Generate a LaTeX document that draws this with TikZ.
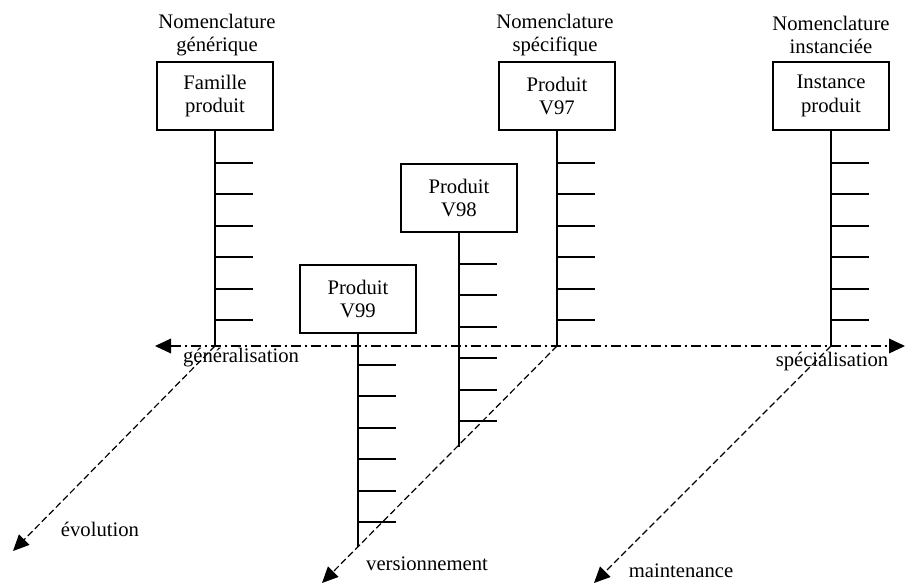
\documentclass[tikz,border=0pt]{standalone}
\usepackage{fontspec}
\setmainfont{Liberation Serif}
\usetikzlibrary{arrows.meta}
\begin{document}
\begin{tikzpicture}[x=0.75pt,y=-0.75pt,
  every node/.style={font=\fontsize{15.5}{17.5}\selectfont},
  boxnode/.style={draw, line width=1pt, minimum width=87pt, minimum height=51pt, inner sep=0pt, align=center},
  titlenode/.style={align=center, inner sep=0pt},
  lab/.style={inner sep=0pt, anchor=base},
  stem/.style={line width=1pt},
  tickline/.style={line width=1pt},
  axis/.style={line width=1pt, dash pattern=on 7.5pt off 3pt on 1.5pt off 3pt,
    {Triangle[length=12pt,width=11pt]}-{Triangle[length=12pt,width=11pt]}},
  evo/.style={line width=0.9pt, dash pattern=on 5pt off 2.5pt, -{Triangle[length=12pt,width=11pt]}}
]
\useasboundingbox (0,0) rectangle (905,585);

% titles
\node[titlenode] (t1) at (217,35) {Nomenclature\\générique};
\node[titlenode] (t2) at (555,35) {Nomenclature\\spécifique};
\node[titlenode] (t3) at (831,35) {Nomenclature\\instanciée};

% boxes
\node[boxnode] (fam) at (215,96) {Famille\\produit};
\node[boxnode] (v97) at (557,96) {Produit\\V97};
\node[boxnode] (inst) at (831,96) {Instance\\produit};
\node[boxnode] (v98) at (459,198) {Produit\\V98};
\node[boxnode] (v99) at (358,299) {Produit\\V99};

% stem ends
\coordinate (famE) at (215,346);
\coordinate (v97E) at (557,346);
\coordinate (instE) at (831,346);
\coordinate (v98E) at (459,447);
\coordinate (v99E) at (358,547);

\draw[stem] (fam.south) -- (famE);
\draw[stem] (v97.south) -- (v97E);
\draw[stem] (inst.south) -- (instE);
\draw[stem] (v98.south) -- (v98E);
\draw[stem] (v99.south) -- (v99E);

% ticks
\foreach \x in {215,557,831}{
  \foreach \y in {163,194,226,257,289,320}
    \draw[tickline] (\x,\y) -- ++(38,0);
}
\foreach \y in {264,295,327,358,390,421}
  \draw[tickline] (459,\y) -- ++(38,0);
\foreach \y in {365,396,428,459,491,522}
  \draw[tickline] (358,\y) -- ++(38,0);

% horizontal axis
\coordinate (axL) at (155,346);
\coordinate (axR) at (905,346);
\draw[axis] (axL) -- (axR);

% diagonal arrows
\coordinate (evoT) at (13,551);
\coordinate (verT) at (322,583);
\coordinate (maiT) at (594,583);
\draw[evo] (famE) -- (evoT);
\draw[evo] (v97E) -- (verT);
\draw[evo] (instE) -- (maiT);

% labels
\node[lab] (gen) at (241,362) {généralisation};
\node[lab] (spe) at (832,366) {spécialisation};
\node[lab] (evl) at (100,536) {évolution};
\node[lab] (ver) at (427,570) {versionnement};
\node[lab] (mai) at (681,577) {maintenance};
\end{tikzpicture}
\end{document}
